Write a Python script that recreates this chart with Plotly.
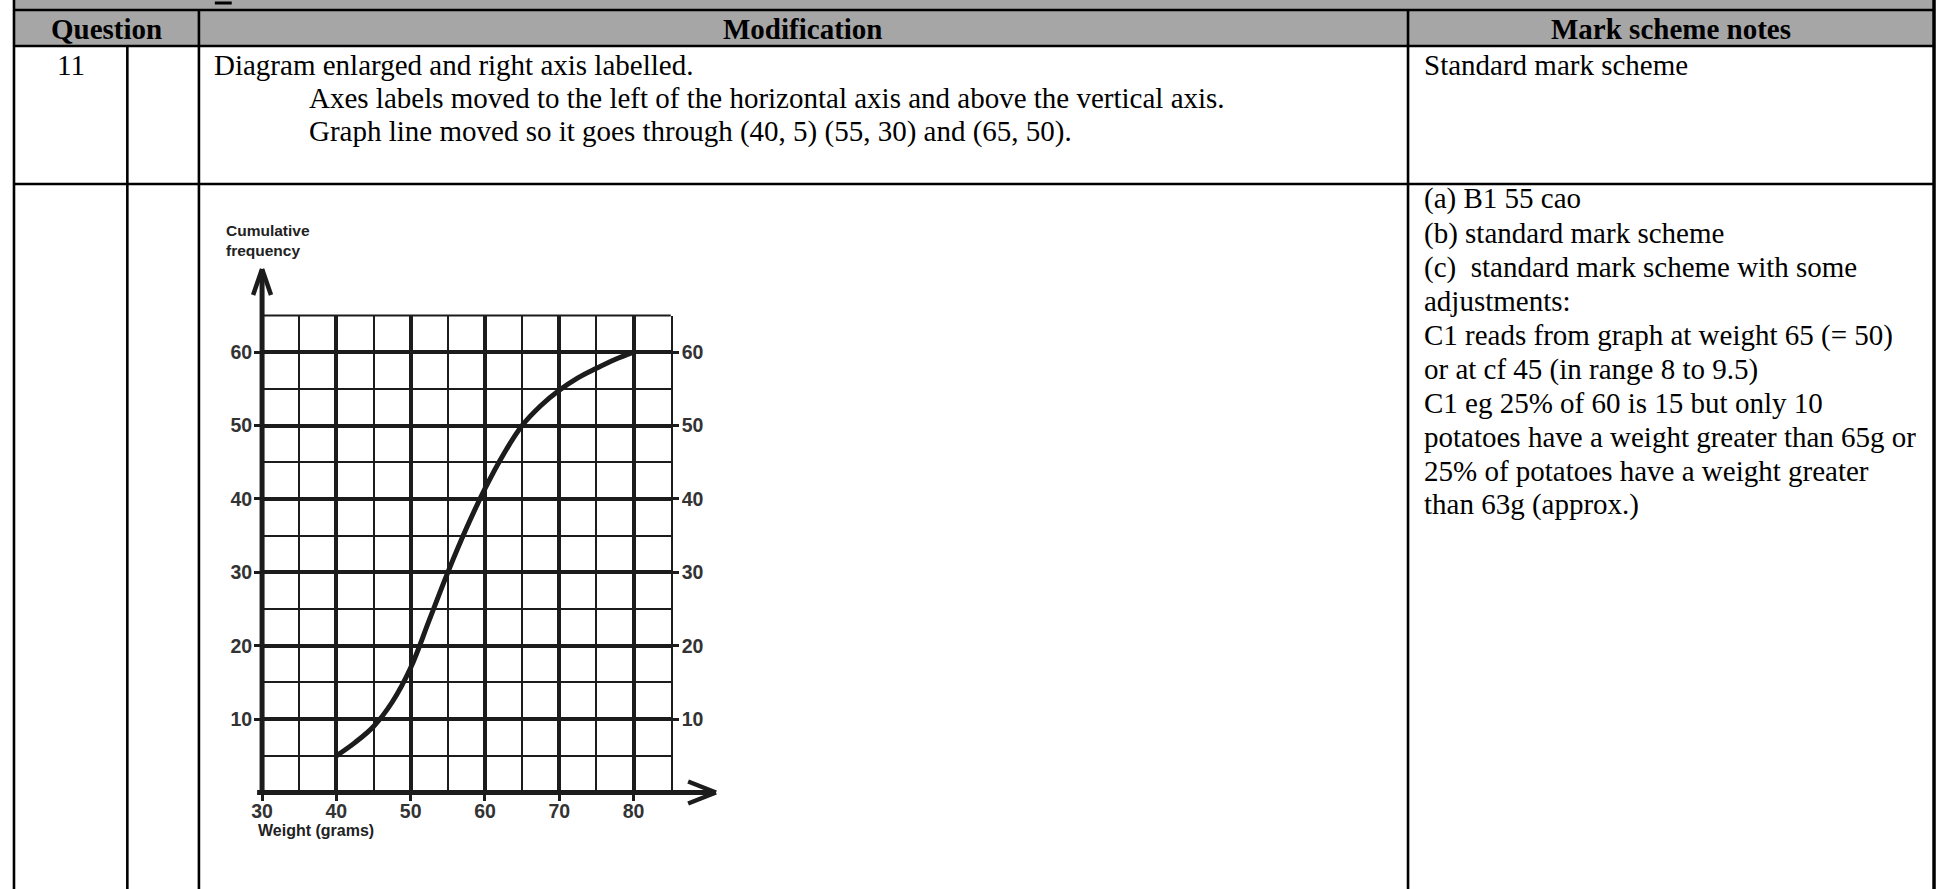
import plotly.graph_objects as go

W, H = 1939, 889

# ---------------- chart data ----------------
weight = [40, 42.5, 45, 47.5, 50, 52.5, 55, 57.5, 60, 62.5, 65, 67.5, 70, 72.5, 75, 77.5, 80]
cum_freq = [5, 6.8, 9.0, 12.3, 17.0, 23.5, 30.0, 36.0, 41.4, 46.1, 50.0, 52.7, 54.8, 56.5, 57.8, 59.0, 60.0]
x_ticks = [30, 40, 50, 60, 70, 80]
y_ticks = [10, 20, 30, 40, 50, 60]
x_range = [30, 85]
y_range = [0, 65]

# ---------------- table text ----------------
headers = ["Question", "Modification", "Mark scheme notes"]
question_no = "11"
modification_lines = [
    "Diagram enlarged and right axis labelled.",
    "Axes labels moved to the left of the horizontal axis and above the vertical axis.",
    "Graph line moved so it goes through (40, 5) (55, 30) and (65, 50).",
]
mark_row1 = "Standard mark scheme"
mark_row2 = [
    "(a) B1 55 cao",
    "(b) standard mark scheme",
    "(c)  standard mark scheme with some",
    "adjustments:",
    "C1 reads from graph at weight 65 (= 50)",
    "or at cf 45 (in range 8 to 9.5)",
    "C1 eg 25% of 60 is 15 but only 10",
    "potatoes have a weight greater than 65g or",
    "25% of potatoes have a weight greater",
    "than 63g (approx.)",
]

SERIF = "Liberation Serif, Times New Roman, serif"
SANS = "Liberation Sans, Arial, sans-serif"
INK = "#1c1c1c"
GRAY = "#a6a6a6"


def px(x):
    return x / W


def py(y):
    return 1 - y / H


# plot area in page pixels
PL, PR, PT, PB = 252.5, 663.5, 315.5, 792.5

fig = go.Figure()
fig.add_trace(go.Scatter(
    x=weight, y=cum_freq, mode="lines",
    line=dict(color=INK, width=5, shape="spline", smoothing=1.0),
    showlegend=False, hoverinfo="skip", cliponaxis=False,
))
fig.add_trace(go.Scatter(x=[None], y=[None], yaxis="y2", showlegend=False, hoverinfo="skip"))

tickfont = dict(family=SANS, size=19.5, color="#333333", weight="bold")
fig.update_layout(
    width=W, height=H, margin=dict(l=0, r=0, t=0, b=0),
    paper_bgcolor="white", plot_bgcolor="white",
    showlegend=False,
    xaxis=dict(
        domain=[px(PL), px(PR)], range=x_range, anchor="y",
        tickmode="array", tickvals=x_ticks, ticktext=[str(v) for v in x_ticks],
        showgrid=True, gridcolor=INK, gridwidth=4,
        minor=dict(tick0=30, dtick=5, showgrid=True, gridcolor=INK, gridwidth=2, ticks=""),
        ticks="outside", ticklen=7, tickwidth=3, tickcolor=INK, ticklabelstandoff=-6,
        showline=False, zeroline=False, tickfont=tickfont, fixedrange=True,
    ),
    yaxis=dict(
        domain=[py(PB), py(PT)], range=y_range, anchor="x",
        tickmode="array", tickvals=y_ticks, ticktext=[str(v) for v in y_ticks],
        showgrid=True, gridcolor=INK, gridwidth=4,
        minor=dict(tick0=0, dtick=5, showgrid=True, gridcolor=INK, gridwidth=2, ticks=""),
        ticks="outside", ticklen=7, tickwidth=3, tickcolor=INK, ticklabelstandoff=-2,
        showline=False, zeroline=False, tickfont=tickfont, fixedrange=True,
    ),
    yaxis2=dict(
        overlaying="y", side="right", anchor="x", range=y_range,
        tickmode="array", tickvals=y_ticks, ticktext=[str(v) for v in y_ticks],
        showgrid=False, zeroline=False,
        showline=True, linewidth=2, linecolor=INK,
        ticks="outside", ticklen=6, tickwidth=3, tickcolor=INK, ticklabelstandoff=-1,
        tickfont=tickfont, fixedrange=True,
    ),
)

shapes = []
# ---------- table backgrounds & lines (page pixels) ----------
XL, C1, C2, C3, XR = 3, 117, 189, 1405, 1934
YB, YH, YR1 = 10, 46, 184
shapes.append(dict(type="rect", xref="paper", yref="paper", x0=px(XL), x1=px(XR), y0=py(0), y1=py(YH),
                   fillcolor=GRAY, line=dict(width=0), layer="below"))
LW = 2.6


def hline(y, x0, x1, w=LW):
    shapes.append(dict(type="line", xref="paper", yref="paper", x0=px(x0), x1=px(x1), y0=py(y), y1=py(y),
                       line=dict(color="black", width=w)))


def vline(x, y0, y1, w=LW):
    shapes.append(dict(type="line", xref="paper", yref="paper", x0=px(x), x1=px(x), y0=py(y0), y1=py(y1),
                       line=dict(color="black", width=w)))


hline(YB, XL - 1, XR + 1)
hline(YH, XL - 1, XR + 1)
hline(YR1, XL - 1, XR + 1)
vline(XL, 0, H)
vline(XR, 0, H, 3.5)
vline(C1, YH, H)
vline(C2, YB, H)
vline(C3, YB, H)
# cut-off glyph in the top band
shapes.append(dict(type="line", xref="paper", yref="paper", x0=px(205), x1=px(222), y0=py(3), y1=py(3),
                   line=dict(color="black", width=3)))

# ---------- chart axes with arrows (domain fractions) ----------
pw, ph = PR - PL, PB - PT


def dx(p):
    return (p - PL) / pw


def dy(p):
    return (PB - p) / ph


def dline(x0, y0, x1, y1, w=5):
    shapes.append(dict(type="line", xref="x domain", yref="y domain",
                       x0=dx(x0), y0=dy(y0), x1=dx(x1), y1=dy(y1),
                       line=dict(color=INK, width=w)))


# top border of grid
shapes.append(dict(type="line", xref="x domain", yref="y domain", x0=0, x1=1, y0=1, y1=1,
                   line=dict(color=INK, width=2)))
# x axis + arrow
TIPX = 708
dline(PL - 5, PB, TIPX, PB)
dline(TIPX - 27, PB - 11, TIPX + 1, PB, 4.5)
dline(TIPX - 27, PB + 11, TIPX + 1, PB, 4.5)
# y axis + arrow
TIPY = 269
dline(PL, PB + 2, PL, TIPY + 1)
dline(PL - 9, TIPY + 26, PL, TIPY, 4.5)
dline(PL + 9, TIPY + 26, PL, TIPY, 4.5)

fig.update_layout(shapes=shapes)

# ---------- annotations ----------
ann = []


def text(s, x, y, size=29, family=SERIF, anchor="left", color="black"):
    ann.append(dict(text=s, x=px(x), y=py(y), xref="paper", yref="paper",
                    xanchor=anchor, yanchor="middle", showarrow=False,
                    font=dict(family=family, size=size, color=color)))


text("<b>" + headers[0] + "</b>", (XL + C2) / 2, 28.5, 29, anchor="center")
text("<b>" + headers[1] + "</b>", (C2 + C3) / 2, 28.5, 29, anchor="center")
text("<b>" + headers[2] + "</b>", (C3 + XR) / 2, 28.5, 29, anchor="center")
text(question_no, (XL + C1) / 2, 64.5, anchor="center")
text(modification_lines[0], C2 + 13, 64.5)
text(modification_lines[1], 298, 98)
text(modification_lines[2], 298, 131.5)
text(mark_row1, C3 + 14, 64.5)
for i, line in enumerate(mark_row2):
    text(line, C3 + 14, 199 + i * 34.0)

# chart labels
text("<b>Cumulative</b>", 214.5, 231, 15.5, SANS, color="#222222")
text("<b>frequency</b>", 214.5, 250, 15.5, SANS, color="#222222")
text("<b>Weight (grams)</b>", 246, 830, 16, SANS, color="#222222")

fig.update_layout(annotations=ann)

fig.write_html("out.html", config={"displayModeBar": False},
               post_script="document.body.style.margin='0px';")
